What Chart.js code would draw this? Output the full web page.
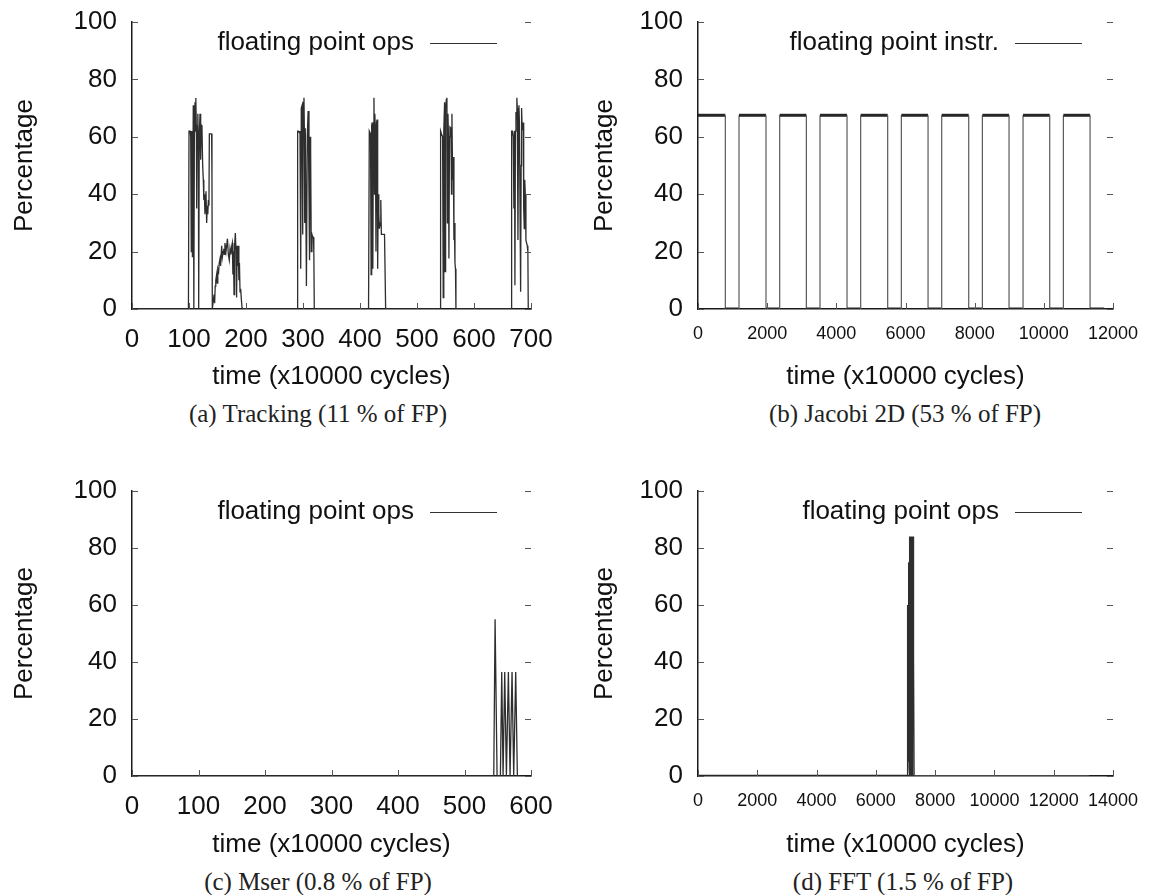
<!DOCTYPE html>
<html><head><meta charset="utf-8">
<script src="https://cdn.jsdelivr.net/npm/chart.js@4.4.1/dist/chart.umd.min.js"></script>
<style>
body{margin:0;background:#fff;width:1149px;height:895px;position:relative;overflow:hidden}
canvas{position:absolute}
.cap{position:absolute;font-family:"Liberation Serif","DejaVu Serif",serif;font-size:25px;color:#222;transform:translate(-50%,-50%);white-space:nowrap}
</style></head><body>
<canvas id="ca" width="575" height="400" style="left:0;top:0"></canvas>
<canvas id="cb" width="574" height="400" style="left:575px;top:0"></canvas>
<canvas id="cc" width="575" height="400" style="left:0;top:468px"></canvas>
<canvas id="cd" width="574" height="400" style="left:575px;top:468px"></canvas>
<div class="cap" id="capA" style="left:318px;top:414px"></div>
<div class="cap" id="capB" style="left:905px;top:414px"></div>
<div class="cap" id="capC" style="left:318px;top:882px"></div>
<div class="cap" id="capD" style="left:903px;top:882px"></div>
<script>
// ---------------- DATA ----------------
const captions = ["(a) Tracking (11 % of FP)", "(b) Jacobi 2D (53 % of FP)", "(c) Mser (0.8 % of FP)", "(d) FFT (1.5 % of FP)"];
const seriesLabels = ["floating point ops", "floating point instr.", "floating point ops", "floating point ops"];
const yTitle = "Percentage";
const xTitle = "time (x10000 cycles)";
const yTicks = [0, 20, 40, 60, 80, 100];
const xTicksA = [0, 100, 200, 300, 400, 500, 600, 700];
const xTicksB = [0, 2000, 4000, 6000, 8000, 10000, 12000];
const xTicksC = [0, 100, 200, 300, 400, 500, 600];
const xTicksD = [0, 2000, 4000, 6000, 8000, 10000, 12000, 14000];

// (a) Tracking: [time, percentage]
const trackingBurst1 = [[0,0],[99,0],[100,62],[102,62],[103,60],[104,20],[105,62],[106,18],[107.5,71],[108.5,0],
  [109.5,65],[110.5,72],[111.5,62],[112,73.5],[113,60],[113.5,35],[114.5,64],[115.5,68],[116.5,55],[117,0],
  [118,60],[119.3,68],[120.5,52],[121.5,64],[122.8,63],[124,50],[125.1,45],[126,38],[127,40],[128,33],
  [129,38],[129.8,41],[131,30],[132,36],[133,33],[134,38],[135,36],[135.7,61],[137,61],[139.7,61],[140.3,45],[140.9,0]];
const trackingBurst2 = [[142.7,3],[144,5],[145,2],[146,8],[147,10],[148.5,12],[149.5,9],[150.5,14],[152,13],[153,16],
  [154.4,17.5],[155.5,15],[157.3,22],[158.5,18],[160,20],[161,21],[162,19],[163,23],[164.9,20],[166,22],
  [167.5,24.5],[169,19],[170.7,17],[172,21],[173.5,19],[175,22],[176,23],[177,12],[178,20],[179,5],
  [180,22],[181.3,26.5],[182.5,20],[183.5,4],[184.5,22],[185.5,15],[186.5,22],[187.5,10],[188.5,16],[189.5,6],
  [190.6,7],[192,3],[193,0.5],[195.3,0]];
const trackingBurst3 = [[289.5,0],[290.6,62],[292,62],[293.5,61.5],[294.7,62],[296,14],[297,70],[298.5,71],[299.5,26],[300.5,72],
  [301.7,73.6],[302.5,60],[303,30],[304,63],[305,63],[306,8],[307.5,60],[309,69],[310.5,40],[311.5,17],
  [312.5,60],[313.4,55],[314.5,20],[315.7,26],[317,25],[318.1,25],[319,20],[319.8,0]];
const trackingBurst4 = [[415,0],[416.3,62],[417.5,62],[418.5,61],[419.5,12],[420.5,64],[421.5,65],[422.5,14],[423.5,64],[424.5,73.6],
  [425.5,40],[426,68],[427,62],[428,20],[429,65],[430,66],[431,14],[432,40],[433,33],[434,28],
  [435.5,30],[436.5,38],[437.5,26],[439,26],[441,26],[443,26],[445,0]];
const trackingBurst5 = [[540.5,0],[541.4,62],[543,61],[544.9,60],[546,4],[547,62],[548.4,72],[549.3,13],[550.2,70],[551.5,73],
  [552.5,73.6],[553.3,30],[554.3,68],[555.2,60],[556,17.6],[557,60],[557.8,63.4],[559.6,63],[560.5,40],[561.3,68],
  [562.5,45],[563.7,53],[564.8,24],[565.5,30],[566.6,16],[567.5,14],[568.3,0]];
const trackingBurst6 = [[665,0],[666,62],[667.5,62],[668.9,60],[670,35],[671,62],[671.8,8.3],[672.7,62],[673.6,68.6],[674.5,66],
  [675.2,73.6],[675.9,70],[677.1,24],[678,60],[678.8,71],[679.7,65],[680.6,65],[681.8,6],[682.7,50],[683.5,70],
  [684.5,63],[686.4,65],[687.2,35],[688.2,28],[689,45],[690,40],[691.1,24],[692.3,23],[693.5,22],[694.5,20],[695.2,0]];

// (b) Jacobi 2D: [time, percentage]
const jacobiPoints = [[0,67.5],[790,67.5],[790,0],[1186,0],[1186,67.5],[1966,67.5],[1966,0],[2362,0],[2362,67.5],[3133,67.5],
  [3133,0],[3528,0],[3528,67.5],[4309,67.5],[4309,0],[4704,0],[4704,67.5],[5485,67.5],[5485,0],[5880,0],
  [5880,67.5],[6652,67.5],[6652,0],[7047,0],[7047,67.5],[7828,67.5],[7828,0],[8223,0],[8223,67.5],[8994,67.5],
  [8994,0],[9399,0],[9399,67.5],[10170,67.5],[10170,0],[10565,0],[10565,67.5],[11337,67.5],[11337,0],[11742,0]];

// (c) Mser: [time, percentage]
const mserPoints = [[0,0],[544,0],[546,55],[549,0],[554,0],[556,36.5],[558,0],[560.5,36.5],[563,0],[566,36.5],
  [568.5,0],[571.5,36.5],[574,0],[577,36.5],[579.5,0],[582.5,0]];

// (d) FFT: [time, percentage]
const fftPoints = [[0,0],[7055,0],[7060,60],[7064,0],[7070,20],[7076,5],[7082,35],[7088,8],[7094,50],[7100,10],
  [7106,65],[7112,5],[7118,75],[7124,3],[7130,82],[7136,0],[7142,84],[7148,2],[7154,84],[7160,0],
  [7166,84],[7172,1],[7178,84],[7184,0],[7190,84],[7196,0],[7202,84],[7208,2],[7214,84],[7220,0],
  [7226,84],[7232,1],[7238,84],[7244,3],[7250,84],[7256,42],[7262,84],[7268,45],[7274,84],[7280,42],
  [7290,0],[13200,0]];

// ---------------- RENDERING ----------------
const trackingPoints = [].concat(trackingBurst1, trackingBurst2, trackingBurst3, trackingBurst4, trackingBurst5, trackingBurst6);
const toXY = arr => arr.map(p => ({x: p[0], y: p[1]}));
const SANS = '"Liberation Sans", Arial, Helvetica, sans-serif';
const BIG = 26;

const gnuplotDecor = {
  id: 'gnuplotDecor',
  afterDatasetsDraw(chart, args, opts) {
    const {ctx, chartArea: ca, scales: {x, y}} = chart;
    ctx.save();
    ctx.strokeStyle = '#555';
    ctx.lineWidth = 1;
    const tl = 6;
    y.ticks.forEach(t => {
      const py = Math.round(y.getPixelForValue(t.value)) + 0.5;
      ctx.beginPath();
      ctx.moveTo(ca.left, py); ctx.lineTo(ca.left + tl, py);
      ctx.moveTo(ca.right, py); ctx.lineTo(ca.right - tl, py);
      ctx.stroke();
    });
    x.ticks.forEach(t => {
      const px = Math.round(x.getPixelForValue(t.value)) + 0.5;
      ctx.beginPath();
      ctx.moveTo(px, ca.bottom); ctx.lineTo(px, ca.bottom - tl);
      ctx.stroke();
    });
    // key (legend) in gnuplot style: text then line sample
    const label = chart.data.datasets[0].label;
    const lineEnd = ca.right - (opts.keyInset || 34), lineStart = lineEnd - 67, ly = ca.top + 21;
    ctx.fillStyle = '#111';
    ctx.font = BIG + 'px ' + SANS;
    ctx.textAlign = 'right';
    ctx.textBaseline = 'middle';
    ctx.fillText(label, lineStart - 16, ly);
    ctx.strokeStyle = '#333';
    ctx.lineWidth = 1.2;
    ctx.beginPath();
    ctx.moveTo(lineStart, Math.round(ly) + 0.5); ctx.lineTo(lineEnd, Math.round(ly) + 0.5);
    ctx.stroke();
    ctx.restore();
  }
};

function panel(id, cfg) {
  const cv = document.getElementById(id);
  const W = cv.width, H = cv.height;
  new Chart(cv, {
    type: 'line',
    data: {datasets: [{
      label: cfg.label,
      data: toXY(cfg.points),
      borderColor: '#2e2e2e',
      borderWidth: 1.3,
      pointRadius: 0,
      tension: 0,
      fill: false,
      segment: cfg.segment || {}
    }]},
    options: {
      responsive: false,
      animation: false,
      devicePixelRatio: 1,
      layout: {padding: {left: 0, top: cfg.plotTop, right: W - cfg.plotRight, bottom: 0}},
      plugins: {legend: {display: false}, tooltip: {enabled: false}, title: {display: false},
        gnuplotDecor: {keyInset: cfg.keyInset}},
      scales: {
        x: {
          type: 'linear', min: cfg.xTicks[0], max: cfg.xTicks[cfg.xTicks.length - 1],
          afterBuildTicks: s => { s.ticks = cfg.xTicks.map(v => ({value: v})); },
          afterFit: s => { s.height = H - cfg.plotBottom; s.paddingLeft = 0; s.paddingRight = 0; },
          grid: {display: false, drawTicks: false},
          border: {display: true, color: '#1a1a1a', width: 1.5},
          ticks: {padding: cfg.xTickPad, color: '#111', font: {family: SANS, size: cfg.xTickSize}, maxRotation: 0, autoSkip: false, callback: v => String(v)},
          title: {display: true, text: xTitle, color: '#111', font: {family: SANS, size: BIG}, padding: {top: 0, bottom: cfg.xTitleBottom}}
        },
        y: {
          type: 'linear', min: 0, max: 100,
          afterBuildTicks: s => { s.ticks = yTicks.map(v => ({value: v})); },
          afterFit: s => { s.width = cfg.plotLeft; s.paddingTop = 0; s.paddingBottom = 0; },
          grid: {display: false, drawTicks: false},
          border: {display: true, color: '#1a1a1a', width: 1.5},
          ticks: {padding: 15, color: '#111', font: {family: SANS, size: BIG}, callback: v => String(v)},
          title: {display: true, text: yTitle, color: '#111', font: {family: SANS, size: BIG}, padding: {top: cfg.yTitleTop, bottom: 0}}
        }
      }
    },
    plugins: [gnuplotDecor]
  });
}

const thickFlat = {
  borderWidth: c => (c.p0.parsed.y === c.p1.parsed.y ? 3 : 1.2),
  borderColor: c => (c.p0.parsed.y === c.p1.parsed.y ? '#262626' : '#5a5a5a')
};
const fftSeg = {
  borderWidth: c => (c.p1.parsed.x <= 7055 ? 2.6 : 1.3),
  borderColor: c => (c.p1.parsed.x <= 7055 ? '#262626' : (c.p0.parsed.x >= 7290 ? '#555' : '#2e2e2e'))
};

panel('ca', {label: seriesLabels[0], points: trackingPoints, xTicks: xTicksA, plotLeft: 132, plotRight: 531, plotTop: 22, plotBottom: 309,
  xTickSize: BIG, xTickPad: 15, xTitleBottom: 7.4, yTitleTop: 9.4, keyInset: 34});
panel('cb', {label: seriesLabels[1], points: jacobiPoints, xTicks: xTicksB, plotLeft: 123, plotRight: 538, plotTop: 22, plotBottom: 309,
  xTickSize: 18, xTickPad: 14, xTitleBottom: 7.4, yTitleTop: 14.4, segment: thickFlat, keyInset: 31});
panel('cc', {label: seriesLabels[2], points: mserPoints, xTicks: xTicksC, plotLeft: 132, plotRight: 531, plotTop: 23, plotBottom: 308,
  xTickSize: BIG, xTickPad: 15, xTitleBottom: 7.4, yTitleTop: 9.4, keyInset: 34});
panel('cd', {label: seriesLabels[3], points: fftPoints, xTicks: xTicksD, plotLeft: 123, plotRight: 538, plotTop: 23, plotBottom: 308,
  xTickSize: 18, xTickPad: 14, xTitleBottom: 7.4, yTitleTop: 14.4, segment: fftSeg, keyInset: 31});

document.getElementById('capA').textContent = captions[0];
document.getElementById('capB').textContent = captions[1];
document.getElementById('capC').textContent = captions[2];
document.getElementById('capD').textContent = captions[3];
</script>
</body></html>
